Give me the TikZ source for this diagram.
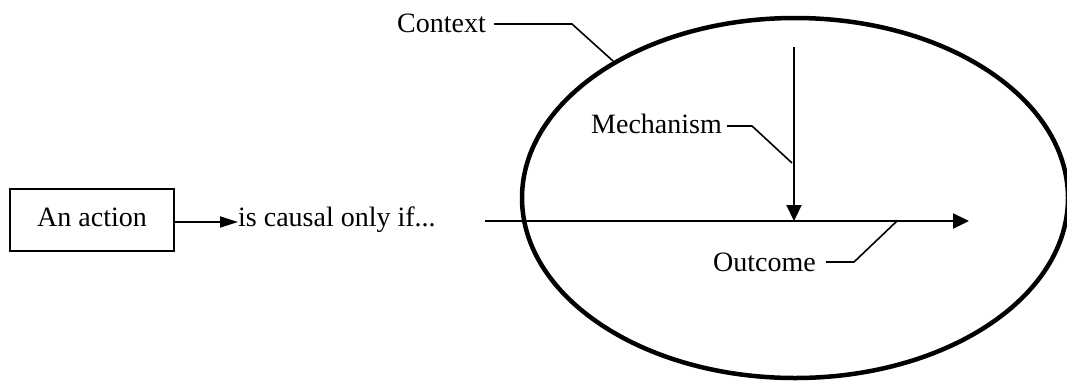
\documentclass[tikz,border=0pt]{standalone}
\usepackage{fontspec}
\setmainfont{Liberation Serif}
\usetikzlibrary{arrows.meta,shapes.geometric}
\begin{document}
\begin{tikzpicture}[x=1pt,y=-1pt,
  lbl/.style={inner sep=0pt,anchor=base west,font=\fontsize{28}{34}\selectfont},
  leader/.style={line width=1.6pt},
  mainline/.style={line width=2.2pt,-{Triangle[length=16pt,width=15pt]}},
  smallarrow/.style={line width=1.8pt,-{Triangle[length=18pt,width=11pt]}}]
\useasboundingbox (0,0) rectangle (1067,383);
% context ellipse
\node[draw,ellipse,line width=4.5pt,minimum width=546pt,minimum height=360pt,inner sep=0pt] (ctx) at (795,198) {};
% box
\node[draw,line width=1.3pt,minimum width=164pt,minimum height=62pt,inner sep=0pt,
  font=\fontsize{28}{34}\selectfont,text height=20pt,text depth=8pt] (act) at (92,220) {An action};
\node[lbl] (causal) at (238,226) {is causal only if...};
\node[lbl] (context) at (397,32) {Context};
\node[lbl] (mech) at (591,133) {Mechanism};
\node[lbl] (outc) at (713,271) {Outcome};
% coordinates
\coordinate (ms) at (485,221);
\coordinate (me) at (969,221);
\coordinate (vs) at (794,47);
\coordinate (ctxbend) at (572,24);
\coordinate (ctxhit) at (613,61);
\coordinate (mechbend) at (752,126);
\coordinate (mechhit) at (792,163);
\coordinate (outbend) at (854,262);
\coordinate (outhit) at (897,221);
% connectors
\draw[smallarrow] (act.east |- 0,222) -- (causal.west |- 0,222);
\draw[mainline] (ms) -- (me);
\draw[mainline] (vs) -- (vs |- ms);
\draw[leader] ([xshift=8pt]context.east |- ctxbend) -- (ctxbend) -- (ctxhit);
\draw[leader] ([xshift=5pt]mech.east |- mechbend) -- (mechbend) -- (mechhit);
\draw[leader] ([xshift=10pt]outc.east |- outbend) -- (outbend) -- (outhit);
\end{tikzpicture}
\end{document}
